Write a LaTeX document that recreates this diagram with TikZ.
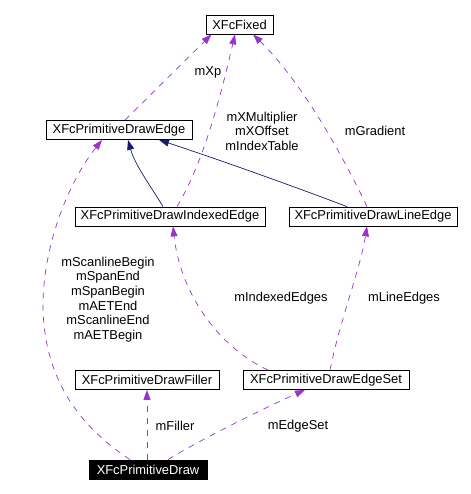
\documentclass[tikz,border=0pt]{standalone}
\usepackage{fontspec}
\setmainfont{Liberation Sans}
\usetikzlibrary{arrows.meta}
\definecolor{usecol}{HTML}{9A32CD}
\definecolor{inhcol}{HTML}{191970}
\begin{document}
\begin{tikzpicture}[x=1bp,y=-1bp,
  every node/.style={font=\fontsize{12.9bp}{14.6bp}\selectfont},
  cls/.style={draw=black,line width=0.8bp,rectangle,inner sep=0pt,minimum height=19bp},
  lbl/.style={align=center,inner sep=0pt},
  use/.style={draw=usecol,line width=0.7bp,dash pattern=on 6bp off 6bp,-{Triangle[length=10bp,width=7bp]},fill=none},
  inh/.style={draw=inhcol,line width=0.7bp,-{Triangle[length=10bp,width=7bp]}}]
\useasboundingbox (0,0) rectangle (471,494);
\fill[white] (0,0) rectangle (471,494);
% classes
\node[cls,minimum width=67bp] (fixed) at (239.5,24.5) {XFcFixed};
\node[cls,minimum width=146bp] (edge) at (119,130) {XFcPrimitiveDrawEdge};
\node[cls,minimum width=190bp] (ie) at (170,216.5) {XFcPrimitiveDrawIndexedEdge};
\node[cls,minimum width=168bp] (le) at (373,216.5) {XFcPrimitiveDrawLineEdge};
\node[cls,minimum width=144bp] (filler) at (147,380) {XFcPrimitiveDrawFiller};
\node[cls,minimum width=166bp] (es) at (326,380) {XFcPrimitiveDrawEdgeSet};
\node[cls,minimum width=118bp,fill=black,text=white] (pd) at (148,469.5) {XFcPrimitiveDraw};
% inheritance
\draw[inh] ([xshift=-7bp]ie.north) .. controls (150,185) and (135,165) .. ([xshift=9bp]edge.south);
\draw[inh] ([xshift=-26bp]le.north) .. controls (290,185) and (220,160) .. ([xshift=40bp]edge.south);
% usage
\draw[use] ([xshift=6bp]edge.north) -- ([xshift=-28bp]fixed.south);
\draw[use] ([xshift=7bp]ie.north) .. controls (205,160) and (222,90) .. ([xshift=-4.5bp]fixed.south);
\draw[use] ([xshift=-6bp]le.north) .. controls (340,150) and (300,80) .. ([xshift=13.5bp]fixed.south);
\draw[use] ([xshift=-18bp]pd.north) .. controls (70,420) and (45,370) .. (43,310) .. controls (42,245) and (70,180) .. ([xshift=-17bp]edge.south);
\draw[use] ([xshift=-58bp]es.north) .. controls (215,345) and (180,290) .. ([xshift=3bp]ie.south);
\draw[use] ([xshift=4bp]es.north) .. controls (340,320) and (360,270) .. ([xshift=-6bp]le.south);
\draw[use] ([xshift=-1bp]pd.north) -- (filler.south);
\draw[use] ([xshift=20bp]pd.north) .. controls (200,440) and (260,410) .. ([xshift=-21bp]es.south);
% labels
\node[lbl] (lxp) at (208,72) {mXp};
\node[lbl] (lxm) at (262,131) {mXMultiplier\\mXOffset\\mIndexTable};
\node[lbl] (lgr) at (375,131) {mGradient};
\node[lbl] (lsc) at (108,299.5) {mScanlineBegin\\mSpanEnd\\mSpanBegin\\mAETEnd\\mScanlineEnd\\mAETBegin};
\node[lbl] (lie) at (281,298) {mIndexedEdges};
\node[lbl] (lle) at (404,298) {mLineEdges};
\node[lbl] (lfi) at (175,426) {mFiller};
\node[lbl] (les) at (298,426) {mEdgeSet};
\end{tikzpicture}
\end{document}
